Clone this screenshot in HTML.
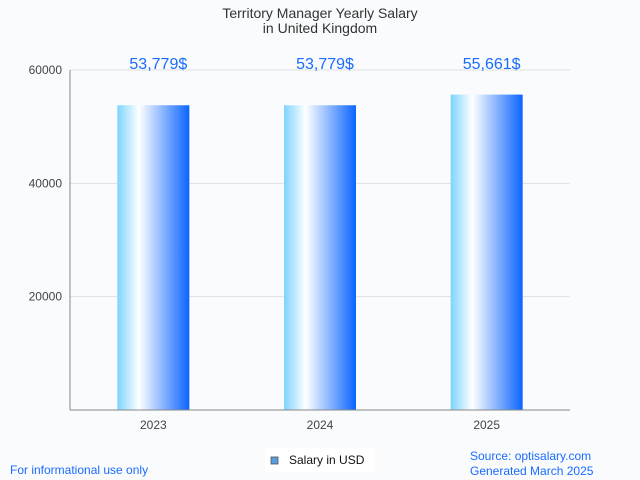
<!DOCTYPE html>
<html><head><meta charset="utf-8"><style>
body{margin:0;background:#f9fbfd;font-family:"Liberation Sans",sans-serif;}
svg{display:block}
</style></head><body>
<svg id="c" width="640" height="480">
<defs><linearGradient id="g" x1="0" x2="1" y1="0" y2="0">
<stop offset="0" stop-color="#7dd3ff"/><stop offset="0.3" stop-color="#ffffff"/><stop offset="1" stop-color="#0a64ff"/>
</linearGradient></defs>
<rect width="640" height="480" fill="#f9fbfd"/>
<text x="320" y="18" text-anchor="middle" font-size="14" fill="#333">Territory Manager Yearly Salary</text>
<text x="320" y="33" text-anchor="middle" font-size="14" fill="#333">in United Kingdom</text>
<g id="grid"></g><g id="bars"></g>
<line x1="70" y1="70" x2="70" y2="410" stroke="#888"/>
<line x1="70" y1="410" x2="570" y2="410" stroke="#888"/>
<rect x="265" y="448" width="110" height="24" fill="#fff"/>
<rect x="271" y="457" width="7" height="7" fill="#5b9be0" stroke="#555" stroke-width="0.8"/>
<text x="289" y="464" font-size="12" fill="#111">Salary in USD</text>
<text x="10" y="474" font-size="12" fill="#1a6bff">For informational use only</text>
<text x="470" y="460" font-size="12" fill="#1a6bff">Source: optisalary.com</text>
<text x="470" y="475" font-size="12" fill="#1a6bff">Generated March 2025</text>
</svg>
<script>
const categories=["2023","2024","2025"];
const values=[53779,53779,55661];
const valueLabels=["53,779$","53,779$","55,661$"];
const yTicks=[20000,40000,60000];
const NS="http://www.w3.org/2000/svg";
const x0=70,x1=570,yTop=70,yBot=410,yMax=60000;
const y=v=>yBot-(v/yMax)*(yBot-yTop);
const band=(x1-x0)/categories.length;
const xc=i=>x0+band*(i+0.5);
function mk(t,a,p){const e=document.createElementNS(NS,t);for(const k in a)e.setAttribute(k,a[k]);p.appendChild(e);return e;}
const grid=document.getElementById('grid'),bars=document.getElementById('bars');
yTicks.forEach(t=>{
 const l=mk('line',{x1:x0,x2:x1,y1:y(t),y2:y(t),stroke:'#e0e0e0'},grid);
 
 
 const tx=mk('text',{x:62,y:y(t)+4,'text-anchor':'end','font-size':12,fill:'#444'},grid);
 tx.textContent=t;
 
 
});
values.forEach((v,i)=>{
 const r=mk('rect',{x:xc(i)-36,y:y(v),width:72,height:yBot-y(v),fill:'url(#g)'},bars);
 
 
 const lb=mk('text',{x:xc(i)+5,y:69,'text-anchor':'middle','font-size':16,fill:'#1a6bff'},bars);
 lb.textContent=valueLabels[i];
 
 
 const xl=mk('text',{x:xc(i),y:429,'text-anchor':'middle','font-size':12,fill:'#444'},bars);
 xl.textContent=categories[i];
 
 
});
</script>
</body></html>
